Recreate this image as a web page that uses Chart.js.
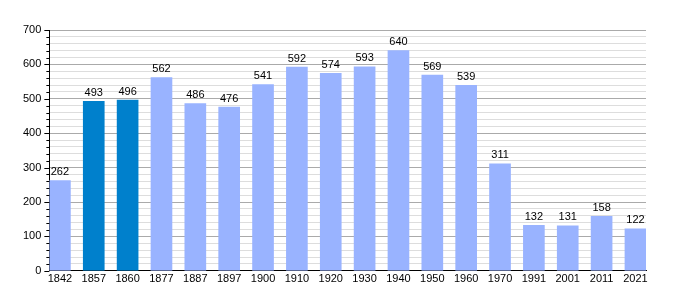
<!DOCTYPE html>
<html>
<head>
<meta charset="utf-8">
<script src="https://cdn.jsdelivr.net/npm/chart.js@4"></script>
<style>
  html, body { margin: 0; padding: 0; background: #fff; }
  #wrap { width: 675px; height: 300px; }
</style>
</head>
<body>
<div id="wrap"><canvas id="chart"></canvas></div>
<script>
// --- DATA ---
const years = ['1842', '1857', '1860', '1877', '1887', '1897', '1900', '1910', '1920',
               '1930', '1940', '1950', '1960', '1970', '1991', '2001', '2011', '2021'];
const population = [262, 493, 496, 562, 486, 476, 541, 592, 574, 593, 640, 569, 539, 311, 132, 131, 158, 122];
const highlighted = ['1857', '1860'];
const yTicks = [0, 100, 200, 300, 400, 500, 600, 700];

const LIGHT = '#99b3ff';
const DARK = '#0080cc';
const FONT = 'Liberation Sans, Arial, sans-serif';

// half a bar in category units, so the first and last bars touch the plot edges
const halfBar = 0.3116;

// value labels above bars + y axis tick marks (long on hundreds, short on twenties)
const decorations = {
    id: 'decorations',
    afterDatasetsDraw(chart) {
        const ctx = chart.ctx;
        const y = chart.scales.y;
        ctx.save();
        ctx.fillStyle = '#000';
        ctx.font = '11px ' + FONT;
        ctx.textAlign = 'center';
        ctx.textBaseline = 'bottom';
        chart.getDatasetMeta(0).data.forEach((bar, i) => {
            ctx.fillText(population[i], bar.x, bar.y - 3);
        });
        ctx.strokeStyle = '#000';
        ctx.lineWidth = 1;
        const left = chart.chartArea.left;
        y.ticks.forEach(t => {
            const py = Math.round(y.getPixelForValue(t.value)) + 0.5;
            const len = t.value % 100 === 0 ? 5 : 3;
            ctx.beginPath();
            ctx.moveTo(left - len, py);
            ctx.lineTo(left, py);
            ctx.stroke();
        });
        ctx.restore();
    }
};

new Chart(document.getElementById('chart'), {
    type: 'bar',
    data: {
        datasets: [{
            data: population.map((v, i) => ({ x: i, y: v })),
            backgroundColor: years.map(yr => highlighted.includes(yr) ? DARK : LIGHT),
            barThickness: 21,
            borderWidth: 0
        }]
    },
    options: {
        responsive: true,
        maintainAspectRatio: false,
        animation: false,
        layout: { padding: { top: 30, right: 29, left: 15, bottom: 12 } },
        plugins: { legend: { display: false }, tooltip: { enabled: false } },
        scales: {
            x: {
                type: 'linear',
                offset: false,
                min: -halfBar,
                max: years.length - 1 + halfBar,
                afterBuildTicks: (scale) => { scale.ticks = years.map((_, i) => ({ value: i })); },
                ticks: {
                    autoSkip: false,
                    maxRotation: 0,
                    padding: 2,
                    color: '#000',
                    font: { family: FONT, size: 11 },
                    callback: (v) => years[v]
                },
                grid: { display: false, drawTicks: false },
                border: { display: true, color: '#000', width: 1 }
            },
            y: {
                min: 0,
                max: 700,
                ticks: {
                    stepSize: 20,
                    autoSkip: false,
                    padding: 8,
                    color: '#000',
                    font: { family: FONT, size: 11 },
                    callback: (v) => yTicks.includes(v) ? v : ''
                },
                grid: {
                    drawTicks: false,
                    color: (c) => c.tick && c.tick.value % 100 === 0 ? '#aaaaaa' : '#dddddd'
                },
                border: { display: true, color: '#000', width: 1 }
            }
        }
    },
    plugins: [decorations]
});
</script>
</body>
</html>
